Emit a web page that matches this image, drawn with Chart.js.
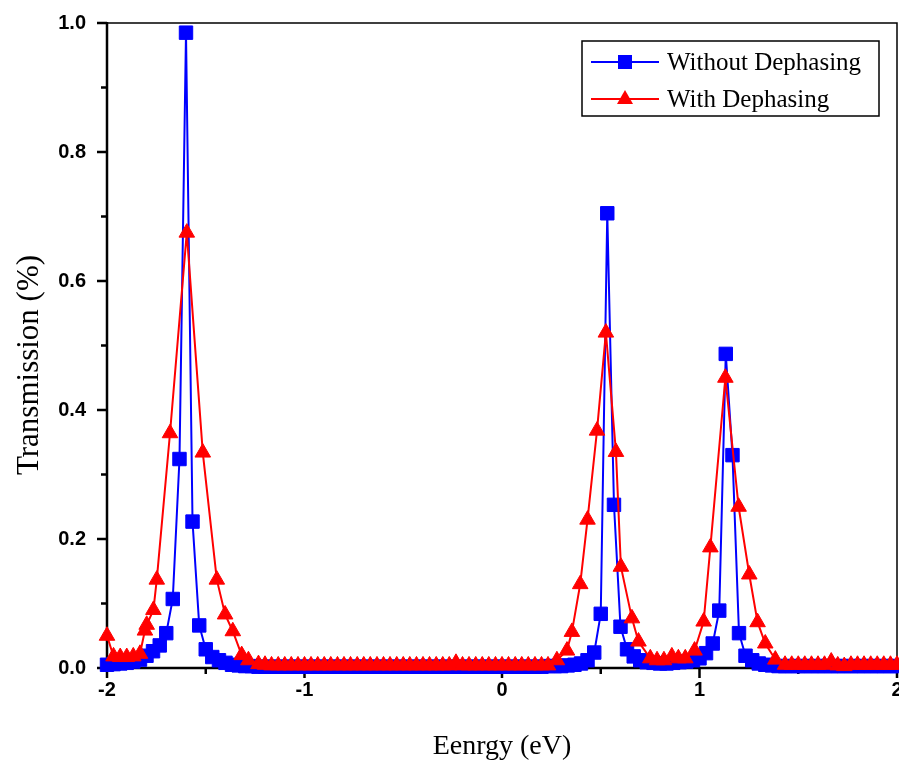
<!DOCTYPE html>
<html lang="en">
  <head>
    <meta charset="UTF-8" />
    <meta name="viewport" content="width=device-width, initial-scale=1.0" />
    <title>Transmission vs Energy</title>

    <script src="https://cdn.jsdelivr.net/npm/chart.js"></script>

    <style>
      * {
        margin: 0;
        padding: 0;
      }
      body {
        background: #fff;
      }
      canvas {
        display: block;
      }
    </style>
  </head>
  <body>
    <canvas id="chart" width="899" height="761"></canvas>

    <script>
      /*====  DATA ============================ */
      // energy grid of the "without dephasing" curve (eV)
      const energyBlue = [
        -2.000, -1.967, -1.933, -1.900, -1.867, -1.833, -1.800, -1.767, -1.733, -1.700,
        -1.667, -1.633, -1.600, -1.567, -1.533, -1.500, -1.467, -1.433, -1.400, -1.367,
        -1.333, -1.300, -1.267, -1.233, -1.200, -1.167, -1.133, -1.100, -1.067, -1.033,
        -1.000, -0.967, -0.933, -0.900, -0.867, -0.833, -0.800, -0.767, -0.733, -0.700,
        -0.667, -0.633, -0.600, -0.567, -0.533, -0.500, -0.467, -0.433, -0.400, -0.367,
        -0.333, -0.300, -0.267, -0.233, -0.200, -0.167, -0.133, -0.100, -0.067, -0.033,
        0.000, 0.033, 0.067, 0.100, 0.133, 0.167, 0.200, 0.233, 0.267, 0.300,
        0.333, 0.367, 0.400, 0.433, 0.467, 0.500, 0.533, 0.567, 0.600, 0.633,
        0.667, 0.700, 0.733, 0.767, 0.800, 0.833, 0.867, 0.900, 0.933, 0.967,
        1.000, 1.033, 1.067, 1.100, 1.133, 1.167, 1.200, 1.233, 1.267, 1.300,
        1.333, 1.367, 1.400, 1.433, 1.467, 1.500, 1.533, 1.567, 1.600, 1.633,
        1.667, 1.700, 1.733, 1.767, 1.800, 1.833, 1.867, 1.900, 1.933, 1.967,
        2.000
      ];
      const transBlue = [
        0.005, 0.006, 0.007, 0.008, 0.010, 0.013, 0.019, 0.026, 0.035, 0.054,
        0.107, 0.324, 0.985, 0.227, 0.066, 0.029, 0.017, 0.012, 0.008, 0.005,
        0.004, 0.003, 0.003, 0.002, 0.002, 0.002, 0.002, 0.002, 0.002, 0.002,
        0.002, 0.002, 0.002, 0.002, 0.002, 0.002, 0.002, 0.002, 0.002, 0.002,
        0.002, 0.002, 0.002, 0.002, 0.002, 0.002, 0.002, 0.002, 0.002, 0.002,
        0.002, 0.002, 0.002, 0.002, 0.002, 0.002, 0.002, 0.002, 0.002, 0.002,
        0.002, 0.002, 0.002, 0.002, 0.002, 0.002, 0.002, 0.003, 0.003, 0.003,
        0.004, 0.005, 0.007, 0.012, 0.024, 0.084, 0.705, 0.253, 0.064, 0.029,
        0.018, 0.012, 0.009, 0.008, 0.007, 0.007, 0.008, 0.009, 0.010, 0.012,
        0.015, 0.023, 0.038, 0.089, 0.487, 0.330, 0.054, 0.019, 0.012, 0.007,
        0.005, 0.004, 0.003, 0.003, 0.003, 0.003, 0.003, 0.003, 0.003, 0.003,
        0.003, 0.003, 0.003, 0.003, 0.003, 0.003, 0.003, 0.003, 0.003, 0.003,
        0.003
      ];

      // "with dephasing" curve
      const energyRed = [
        -2.000, -1.967, -1.933, -1.900, -1.867, -1.833, -1.808, -1.799, -1.765, -1.748,
        -1.681, -1.596, -1.515, -1.444, -1.402, -1.363, -1.318, -1.284,
        -1.233, -1.200, -1.167, -1.133, -1.100, -1.067, -1.033, -1.000, -0.967, -0.933,
        -0.900, -0.867, -0.833, -0.800, -0.767, -0.733, -0.700, -0.667, -0.633, -0.600,
        -0.567, -0.533, -0.500, -0.467, -0.433, -0.400, -0.367, -0.333, -0.300, -0.267,
        -0.233, -0.200, -0.167, -0.133, -0.100, -0.067, -0.033, 0.000, 0.033, 0.067,
        0.100, 0.133, 0.167, 0.200, 0.233,
        0.278, 0.329, 0.354, 0.396, 0.433, 0.481, 0.526, 0.577, 0.602, 0.658,
        0.691, 0.751, 0.785, 0.820, 0.860, 0.893, 0.928, 0.975, 1.021, 1.055,
        1.131, 1.198, 1.252, 1.294, 1.333, 1.384,
        1.433, 1.467, 1.500, 1.533, 1.567, 1.600, 1.633, 1.667, 1.700, 1.733,
        1.767, 1.800, 1.833, 1.867, 1.900, 1.933, 1.967, 2.000
      ];
      const transRed = [
        0.050, 0.018, 0.017, 0.017, 0.018, 0.022, 0.058, 0.067, 0.090, 0.137,
        0.364, 0.675, 0.334, 0.137, 0.083, 0.057, 0.020, 0.012,
        0.006, 0.005, 0.004, 0.004, 0.004, 0.004, 0.004, 0.004, 0.004, 0.004,
        0.004, 0.004, 0.004, 0.004, 0.004, 0.004, 0.004, 0.004, 0.004, 0.004,
        0.004, 0.004, 0.004, 0.004, 0.004, 0.004, 0.004, 0.004, 0.004, 0.004,
        0.008, 0.004, 0.004, 0.004, 0.004, 0.004, 0.004, 0.004, 0.004, 0.004,
        0.004, 0.004, 0.004, 0.004, 0.004,
        0.012, 0.027, 0.056, 0.130, 0.230, 0.368, 0.520, 0.335, 0.157, 0.077,
        0.041, 0.015, 0.012, 0.012, 0.018, 0.015, 0.015, 0.027, 0.072, 0.187,
        0.450, 0.250, 0.145, 0.071, 0.038, 0.013,
        0.005, 0.005, 0.005, 0.005, 0.005, 0.005, 0.005, 0.010, 0.004, 0.003,
        0.005, 0.005, 0.005, 0.005, 0.005, 0.005, 0.005, 0.005
      ];

      // tick labels / tick marks
      const xMajorTicks = [-2, -1, 0, 1, 2];
      const xMinorTicks = [-1.5, -0.5, 0.5, 1.5];
      const yMajorTicks = [0, 0.2, 0.4, 0.6, 0.8, 1.0];
      const yMinorTicks = [0.1, 0.3, 0.5, 0.7, 0.9];

      const toPoints = (xs, ys) => xs.map((x, i) => ({ x: x, y: ys[i] }));

      /*====  FRAME + TICK MARKS ============================ */
      const framePlugin = {
        id: 'frame',
        beforeDatasetsDraw(chart) {
          const { ctx, chartArea: a, scales } = chart;
          const x = scales.x;
          const y = scales.y;
          ctx.save();
          ctx.strokeStyle = '#000';

          // thin top / right border
          ctx.lineWidth = 1.5;
          ctx.beginPath();
          ctx.moveTo(a.left, a.top);
          ctx.lineTo(a.right, a.top);
          ctx.lineTo(a.right, a.bottom);
          ctx.stroke();

          // thick axes
          ctx.lineWidth = 2.5;
          ctx.beginPath();
          ctx.moveTo(a.left, a.top - 1);
          ctx.lineTo(a.left, a.bottom);
          ctx.lineTo(a.right + 1, a.bottom);
          ctx.stroke();

          // ticks pointing outward
          ctx.beginPath();
          xMajorTicks.forEach((v) => {
            const px = x.getPixelForValue(v);
            ctx.moveTo(px, a.bottom);
            ctx.lineTo(px, a.bottom + 10);
          });
          xMinorTicks.forEach((v) => {
            const px = x.getPixelForValue(v);
            ctx.moveTo(px, a.bottom);
            ctx.lineTo(px, a.bottom + 6);
          });
          yMajorTicks.forEach((v) => {
            const py = y.getPixelForValue(v);
            ctx.moveTo(a.left, py);
            ctx.lineTo(a.left - 10, py);
          });
          yMinorTicks.forEach((v) => {
            const py = y.getPixelForValue(v);
            ctx.moveTo(a.left, py);
            ctx.lineTo(a.left - 6, py);
          });
          ctx.stroke();
          ctx.restore();
        }
      };

      /*====  Y TITLE (placed a bit below the axis centre, like the original) ==== */
      const yTitlePlugin = {
        id: 'yTitle',
        afterDraw(chart) {
          const t = chart.options.scales.y.title;
          const { ctx } = chart;
          ctx.save();
          ctx.translate(30, 365);
          ctx.rotate(-Math.PI / 2);
          ctx.fillStyle = '#000';
          ctx.font = '31px "Liberation Serif", "Times New Roman", serif';
          ctx.textAlign = 'center';
          ctx.textBaseline = 'middle';
          ctx.fillText(t.text, 0, 0);
          ctx.restore();
        }
      };

      /*====  LEGEND BOX ============================ */
      const legendPlugin = {
        id: 'boxLegend',
        afterDraw(chart) {
          const { ctx, chartArea: a } = chart;
          const boxR = a.right - 18;
          const boxL = boxR - 297;
          const boxT = a.top + 18;
          const boxH = 75;
          ctx.save();
          ctx.fillStyle = '#fff';
          ctx.fillRect(boxL, boxT, boxR - boxL, boxH);
          ctx.strokeStyle = '#000';
          ctx.lineWidth = 1.5;
          ctx.strokeRect(boxL, boxT, boxR - boxL, boxH);

          chart.data.datasets.forEach((ds, i) => {
            const cy = boxT + 21 + i * 37;
            const x0 = boxL + 9;
            const x1 = boxL + 77;
            const cx = (x0 + x1) / 2;
            ctx.strokeStyle = ds.borderColor;
            ctx.lineWidth = 2;
            ctx.beginPath();
            ctx.moveTo(x0, cy);
            ctx.lineTo(x1, cy);
            ctx.stroke();

            ctx.fillStyle = ds.backgroundColor;
            ctx.beginPath();
            if (ds.pointStyle === 'rect') {
              ctx.rect(cx - 7, cy - 7, 14, 14);
            } else {
              ctx.moveTo(cx, cy - 9);
              ctx.lineTo(cx + 8, cy + 5);
              ctx.lineTo(cx - 8, cy + 5);
              ctx.closePath();
            }
            ctx.fill();

            ctx.fillStyle = '#000';
            ctx.font = '25px "Liberation Serif", "Times New Roman", serif';
            ctx.textBaseline = 'middle';
            ctx.fillText(ds.label, boxL + 85, cy + 1);
          });
          ctx.restore();
        }
      };

      /*====  CHART ============================ */
      const ctx = document.getElementById('chart').getContext('2d');
      const myChart = new Chart(ctx, {
        type: 'line',
        data: {
          datasets: [
            {
              label: 'Without Dephasing',
              data: toPoints(energyBlue, transBlue),
              borderColor: '#0000ff',
              backgroundColor: '#0000ff',
              borderWidth: 2,
              pointStyle: 'rect',
              pointRadius: 9.5,
              pointBorderWidth: 1,
              pointHoverRadius: 9.5,
              tension: 0,
              clip: false,
              order: 1
            },
            {
              label: 'With Dephasing',
              data: toPoints(energyRed, transRed),
              borderColor: '#ff0000',
              backgroundColor: '#ff0000',
              borderWidth: 2,
              pointStyle: 'triangle',
              pointRadius: 9,
              pointBorderWidth: 1,
              pointHoverRadius: 9,
              tension: 0,
              clip: false,
              order: 0
            }
          ]
        },
        options: {
          responsive: false,
          animation: false,
          layout: {
            autoPadding: false,
            padding: { top: 23, right: 2, left: 0, bottom: 0 }
          },
          plugins: {
            legend: { display: false },
            tooltip: { enabled: false }
          },
          scales: {
            x: {
              type: 'linear',
              min: -2,
              max: 2,
              afterFit: (scale) => {
                scale.height = 93;
                scale.paddingLeft = 0;
                scale.paddingRight = 0;
              },
              grid: { display: false, drawTicks: true, tickLength: 10 },
              border: { display: false },
              ticks: {
                stepSize: 1,
                padding: 0,
                color: '#000',
                font: { family: '"Liberation Sans", Arial, sans-serif', size: 20, weight: 'bold' },
                callback: (v) => String(v)
              },
              title: {
                display: true,
                text: 'Eenrgy (eV)',
                color: '#000',
                padding: { top: 2, bottom: 0 },
                font: { family: '"Liberation Serif", "Times New Roman", serif', size: 28, lineHeight: 1 }
              }
            },
            y: {
              min: 0,
              max: 1,
              afterFit: (scale) => {
                scale.width = 107;
                scale.paddingTop = 0;
                scale.paddingBottom = 0;
              },
              grid: { display: false, drawTicks: true, tickLength: 10 },
              border: { display: false },
              ticks: {
                stepSize: 0.2,
                padding: 11,
                color: '#000',
                font: { family: '"Liberation Sans", Arial, sans-serif', size: 20, weight: 'bold' },
                callback: (v) => v.toFixed(1)
              },
              title: {
                display: false,
                text: 'Transmission (%)'
              }
            }
          }
        },
        plugins: [framePlugin, yTitlePlugin, legendPlugin]
      });
    </script>
  </body>
</html>
